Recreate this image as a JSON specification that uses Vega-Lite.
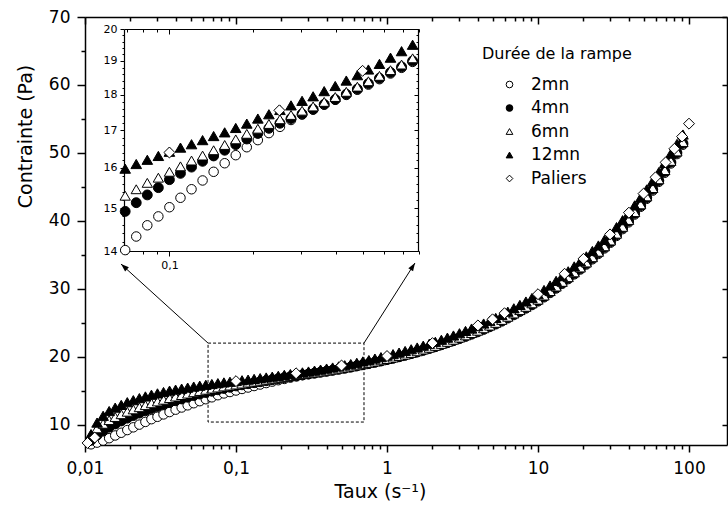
{
"$schema":"https://vega.github.io/schema/vega-lite/v6.json",
"width":642,"height":428,"autosize":"none",
"padding":{"left":85,"top":17,"right":1,"bottom":62},
"background":"white",
"config":{"font":"DejaVu Sans","view":{"stroke":null},"axis":{"grid":false,"domainColor":"black","tickColor":"black","labelColor":"black","titleColor":"black","titleFontWeight":"normal","labelFlush":false,"labelOverlap":false,"labelBound":false},"legend":{"orient":"none","legendX":397,"legendY":29,"titleFontSize":16,"titleFontWeight":"normal","titleColor":"black","labelFontSize":17,"labelColor":"black","symbolOffset":19,"labelOffset":13,"rowPadding":5.5,"titlePadding":14,"symbolSize":45,"symbolStrokeWidth":1,"padding":0}},
"datasets":{"pts":[
{"s":"2mn","x":0.010965,"y":7.1},{"s":"2mn","x":0.012023,"y":7.35},{"s":"2mn","x":0.013183,"y":7.65},{"s":"2mn","x":0.014454,"y":8.0},{"s":"2mn","x":0.015849,"y":8.4},{"s":"2mn","x":0.017378,"y":8.8},{"s":"2mn","x":0.019055,"y":9.2},{"s":"2mn","x":0.020893,"y":9.6},{"s":"2mn","x":0.022909,"y":10.0},{"s":"2mn","x":0.025119,"y":10.4},{"s":"2mn","x":0.027542,"y":10.8},{"s":"2mn","x":0.0302,"y":11.15},{"s":"2mn","x":0.033113,"y":11.5},{"s":"2mn","x":0.036308,"y":11.85},{"s":"2mn","x":0.039811,"y":12.2},{"s":"2mn","x":0.043652,"y":12.52},{"s":"2mn","x":0.047863,"y":12.84},{"s":"2mn","x":0.052481,"y":13.15},{"s":"2mn","x":0.057544,"y":13.45},{"s":"2mn","x":0.063096,"y":13.74},{"s":"2mn","x":0.069183,"y":14.02},{"s":"2mn","x":0.075858,"y":14.33},{"s":"2mn","x":0.083176,"y":14.59},{"s":"2mn","x":0.091201,"y":14.8},
{"s":"2mn","x":0.1,"y":15.02},{"s":"2mn","x":0.10965,"y":15.25},{"s":"2mn","x":0.12023,"y":15.46},{"s":"2mn","x":0.13183,"y":15.68},{"s":"2mn","x":0.14454,"y":15.9},{"s":"2mn","x":0.15849,"y":16.12},{"s":"2mn","x":0.17378,"y":16.33},{"s":"2mn","x":0.19055,"y":16.54},{"s":"2mn","x":0.20893,"y":16.73},{"s":"2mn","x":0.22909,"y":16.92},{"s":"2mn","x":0.25119,"y":17.09},{"s":"2mn","x":0.27542,"y":17.28},{"s":"2mn","x":0.302,"y":17.43},{"s":"2mn","x":0.33113,"y":17.57},{"s":"2mn","x":0.36308,"y":17.71},{"s":"2mn","x":0.39811,"y":17.85},{"s":"2mn","x":0.43652,"y":17.99},{"s":"2mn","x":0.47863,"y":18.14},{"s":"2mn","x":0.52481,"y":18.29},{"s":"2mn","x":0.57544,"y":18.45},{"s":"2mn","x":0.63096,"y":18.62},{"s":"2mn","x":0.69183,"y":18.79},{"s":"2mn","x":0.75858,"y":18.97},{"s":"2mn","x":0.83176,"y":19.16},{"s":"2mn","x":0.91201,"y":19.35},
{"s":"2mn","x":1,"y":19.55},{"s":"2mn","x":1.0965,"y":19.75},{"s":"2mn","x":1.2023,"y":19.96},{"s":"2mn","x":1.3183,"y":20.18},{"s":"2mn","x":1.4454,"y":20.42},{"s":"2mn","x":1.5849,"y":20.66},{"s":"2mn","x":1.7378,"y":20.91},{"s":"2mn","x":1.9055,"y":21.17},{"s":"2mn","x":2.0893,"y":21.44},{"s":"2mn","x":2.2909,"y":21.72},{"s":"2mn","x":2.5119,"y":22.02},{"s":"2mn","x":2.7542,"y":22.32},{"s":"2mn","x":3.02,"y":22.63},{"s":"2mn","x":3.3113,"y":22.95},{"s":"2mn","x":3.6308,"y":23.28},{"s":"2mn","x":3.9811,"y":23.62},{"s":"2mn","x":4.3652,"y":23.99},{"s":"2mn","x":4.7863,"y":24.37},{"s":"2mn","x":5.2481,"y":24.77},{"s":"2mn","x":5.7544,"y":25.19},{"s":"2mn","x":6.3096,"y":25.65},{"s":"2mn","x":6.9183,"y":26.13},{"s":"2mn","x":7.5858,"y":26.62},{"s":"2mn","x":8.3176,"y":27.1},{"s":"2mn","x":9.1201,"y":27.6},
{"s":"2mn","x":10,"y":28.14},{"s":"2mn","x":10.965,"y":28.74},{"s":"2mn","x":12.023,"y":29.38},{"s":"2mn","x":13.183,"y":30.04},{"s":"2mn","x":14.454,"y":30.73},{"s":"2mn","x":15.849,"y":31.42},{"s":"2mn","x":17.378,"y":32.12},{"s":"2mn","x":19.055,"y":32.83},{"s":"2mn","x":20.893,"y":33.56},{"s":"2mn","x":22.909,"y":34.33},{"s":"2mn","x":25.119,"y":35.13},{"s":"2mn","x":27.542,"y":35.93},{"s":"2mn","x":30.2,"y":36.77},{"s":"2mn","x":33.113,"y":37.77},{"s":"2mn","x":36.308,"y":38.77},{"s":"2mn","x":39.811,"y":39.77},{"s":"2mn","x":43.652,"y":40.92},{"s":"2mn","x":47.863,"y":42.06},{"s":"2mn","x":52.481,"y":43.23},{"s":"2mn","x":57.544,"y":44.45},{"s":"2mn","x":63.096,"y":45.73},{"s":"2mn","x":69.183,"y":47.07},{"s":"2mn","x":75.858,"y":48.44},{"s":"2mn","x":83.176,"y":49.82},{"s":"2mn","x":91.201,"y":51.2},
{"s":"4mn","x":0.010965,"y":7.7},{"s":"4mn","x":0.012023,"y":8.45},{"s":"4mn","x":0.013183,"y":9.08},{"s":"4mn","x":0.014454,"y":9.62},{"s":"4mn","x":0.015849,"y":10.1},{"s":"4mn","x":0.017378,"y":10.54},{"s":"4mn","x":0.019055,"y":10.95},{"s":"4mn","x":0.020893,"y":11.33},{"s":"4mn","x":0.022909,"y":11.69},{"s":"4mn","x":0.025119,"y":12.03},{"s":"4mn","x":0.027542,"y":12.36},{"s":"4mn","x":0.0302,"y":12.67},{"s":"4mn","x":0.033113,"y":12.97},{"s":"4mn","x":0.036308,"y":13.25},{"s":"4mn","x":0.039811,"y":13.52},{"s":"4mn","x":0.043652,"y":13.78},{"s":"4mn","x":0.047863,"y":14.03},{"s":"4mn","x":0.052481,"y":14.27},{"s":"4mn","x":0.057544,"y":14.5},{"s":"4mn","x":0.063096,"y":14.72},{"s":"4mn","x":0.069183,"y":14.92},{"s":"4mn","x":0.075858,"y":15.13},{"s":"4mn","x":0.083176,"y":15.32},{"s":"4mn","x":0.091201,"y":15.5},
{"s":"4mn","x":0.1,"y":15.7},{"s":"4mn","x":0.10965,"y":15.86},{"s":"4mn","x":0.12023,"y":16.02},{"s":"4mn","x":0.13183,"y":16.17},{"s":"4mn","x":0.14454,"y":16.31},{"s":"4mn","x":0.15849,"y":16.46},{"s":"4mn","x":0.17378,"y":16.61},{"s":"4mn","x":0.19055,"y":16.76},{"s":"4mn","x":0.20893,"y":16.91},{"s":"4mn","x":0.22909,"y":17.05},{"s":"4mn","x":0.25119,"y":17.19},{"s":"4mn","x":0.27542,"y":17.32},{"s":"4mn","x":0.302,"y":17.45},{"s":"4mn","x":0.33113,"y":17.58},{"s":"4mn","x":0.36308,"y":17.72},{"s":"4mn","x":0.39811,"y":17.86},{"s":"4mn","x":0.43652,"y":18.01},{"s":"4mn","x":0.47863,"y":18.16},{"s":"4mn","x":0.52481,"y":18.32},{"s":"4mn","x":0.57544,"y":18.48},{"s":"4mn","x":0.63096,"y":18.65},{"s":"4mn","x":0.69183,"y":18.82},{"s":"4mn","x":0.75858,"y":19.0},{"s":"4mn","x":0.83176,"y":19.19},{"s":"4mn","x":0.91201,"y":19.38},
{"s":"4mn","x":1,"y":19.58},{"s":"4mn","x":1.0965,"y":19.79},{"s":"4mn","x":1.2023,"y":20.0},{"s":"4mn","x":1.3183,"y":20.23},{"s":"4mn","x":1.4454,"y":20.46},{"s":"4mn","x":1.5849,"y":20.71},{"s":"4mn","x":1.7378,"y":20.96},{"s":"4mn","x":1.9055,"y":21.23},{"s":"4mn","x":2.0893,"y":21.5},{"s":"4mn","x":2.2909,"y":21.79},{"s":"4mn","x":2.5119,"y":22.08},{"s":"4mn","x":2.7542,"y":22.39},{"s":"4mn","x":3.02,"y":22.7},{"s":"4mn","x":3.3113,"y":23.03},{"s":"4mn","x":3.6308,"y":23.36},{"s":"4mn","x":3.9811,"y":23.71},{"s":"4mn","x":4.3652,"y":24.07},{"s":"4mn","x":4.7863,"y":24.46},{"s":"4mn","x":5.2481,"y":24.86},{"s":"4mn","x":5.7544,"y":25.29},{"s":"4mn","x":6.3096,"y":25.75},{"s":"4mn","x":6.9183,"y":26.24},{"s":"4mn","x":7.5858,"y":26.72},{"s":"4mn","x":8.3176,"y":27.21},{"s":"4mn","x":9.1201,"y":27.71},
{"s":"4mn","x":10,"y":28.26},{"s":"4mn","x":10.965,"y":28.87},{"s":"4mn","x":12.023,"y":29.51},{"s":"4mn","x":13.183,"y":30.18},{"s":"4mn","x":14.454,"y":30.86},{"s":"4mn","x":15.849,"y":31.56},{"s":"4mn","x":17.378,"y":32.26},{"s":"4mn","x":19.055,"y":32.98},{"s":"4mn","x":20.893,"y":33.71},{"s":"4mn","x":22.909,"y":34.49},{"s":"4mn","x":25.119,"y":35.28},{"s":"4mn","x":27.542,"y":36.09},{"s":"4mn","x":30.2,"y":36.93},{"s":"4mn","x":33.113,"y":37.94},{"s":"4mn","x":36.308,"y":38.94},{"s":"4mn","x":39.811,"y":39.95},{"s":"4mn","x":43.652,"y":41.09},{"s":"4mn","x":47.863,"y":42.24},{"s":"4mn","x":52.481,"y":43.41},{"s":"4mn","x":57.544,"y":44.64},{"s":"4mn","x":63.096,"y":45.92},{"s":"4mn","x":69.183,"y":47.27},{"s":"4mn","x":75.858,"y":48.63},{"s":"4mn","x":83.176,"y":50.02},{"s":"4mn","x":91.201,"y":51.4},
{"s":"6mn","x":0.010965,"y":8.5},{"s":"6mn","x":0.012023,"y":9.45},{"s":"6mn","x":0.013183,"y":10.12},{"s":"6mn","x":0.014454,"y":10.66},{"s":"6mn","x":0.015849,"y":11.12},{"s":"6mn","x":0.017378,"y":11.53},{"s":"6mn","x":0.019055,"y":11.9},{"s":"6mn","x":0.020893,"y":12.24},{"s":"6mn","x":0.022909,"y":12.56},{"s":"6mn","x":0.025119,"y":12.86},{"s":"6mn","x":0.027542,"y":13.14},{"s":"6mn","x":0.0302,"y":13.41},{"s":"6mn","x":0.033113,"y":13.66},{"s":"6mn","x":0.036308,"y":13.9},{"s":"6mn","x":0.039811,"y":14.13},{"s":"6mn","x":0.043652,"y":14.35},{"s":"6mn","x":0.047863,"y":14.56},{"s":"6mn","x":0.052481,"y":14.76},{"s":"6mn","x":0.057544,"y":14.95},{"s":"6mn","x":0.063096,"y":15.13},{"s":"6mn","x":0.069183,"y":15.3},{"s":"6mn","x":0.075858,"y":15.46},{"s":"6mn","x":0.083176,"y":15.62},{"s":"6mn","x":0.091201,"y":15.75},
{"s":"6mn","x":0.1,"y":15.9},{"s":"6mn","x":0.10965,"y":16.04},{"s":"6mn","x":0.12023,"y":16.19},{"s":"6mn","x":0.13183,"y":16.32},{"s":"6mn","x":0.14454,"y":16.46},{"s":"6mn","x":0.15849,"y":16.6},{"s":"6mn","x":0.17378,"y":16.75},{"s":"6mn","x":0.19055,"y":16.9},{"s":"6mn","x":0.20893,"y":17.04},{"s":"6mn","x":0.22909,"y":17.17},{"s":"6mn","x":0.25119,"y":17.3},{"s":"6mn","x":0.27542,"y":17.42},{"s":"6mn","x":0.302,"y":17.54},{"s":"6mn","x":0.33113,"y":17.66},{"s":"6mn","x":0.36308,"y":17.79},{"s":"6mn","x":0.39811,"y":17.93},{"s":"6mn","x":0.43652,"y":18.08},{"s":"6mn","x":0.47863,"y":18.23},{"s":"6mn","x":0.52481,"y":18.39},{"s":"6mn","x":0.57544,"y":18.55},{"s":"6mn","x":0.63096,"y":18.72},{"s":"6mn","x":0.69183,"y":18.89},{"s":"6mn","x":0.75858,"y":19.08},{"s":"6mn","x":0.83176,"y":19.27},{"s":"6mn","x":0.91201,"y":19.46},
{"s":"6mn","x":1,"y":19.65},{"s":"6mn","x":1.0965,"y":19.86},{"s":"6mn","x":1.2023,"y":20.08},{"s":"6mn","x":1.3183,"y":20.3},{"s":"6mn","x":1.4454,"y":20.54},{"s":"6mn","x":1.5849,"y":20.79},{"s":"6mn","x":1.7378,"y":21.05},{"s":"6mn","x":1.9055,"y":21.31},{"s":"6mn","x":2.0893,"y":21.59},{"s":"6mn","x":2.2909,"y":21.88},{"s":"6mn","x":2.5119,"y":22.18},{"s":"6mn","x":2.7542,"y":22.49},{"s":"6mn","x":3.02,"y":22.8},{"s":"6mn","x":3.3113,"y":23.13},{"s":"6mn","x":3.6308,"y":23.47},{"s":"6mn","x":3.9811,"y":23.82},{"s":"6mn","x":4.3652,"y":24.18},{"s":"6mn","x":4.7863,"y":24.57},{"s":"6mn","x":5.2481,"y":24.98},{"s":"6mn","x":5.7544,"y":25.41},{"s":"6mn","x":6.3096,"y":25.88},{"s":"6mn","x":6.9183,"y":26.36},{"s":"6mn","x":7.5858,"y":26.85},{"s":"6mn","x":8.3176,"y":27.34},{"s":"6mn","x":9.1201,"y":27.85},
{"s":"6mn","x":10,"y":28.39},{"s":"6mn","x":10.965,"y":29.0},{"s":"6mn","x":12.023,"y":29.65},{"s":"6mn","x":13.183,"y":30.32},{"s":"6mn","x":14.454,"y":31.01},{"s":"6mn","x":15.849,"y":31.7},{"s":"6mn","x":17.378,"y":32.41},{"s":"6mn","x":19.055,"y":33.13},{"s":"6mn","x":20.893,"y":33.87},{"s":"6mn","x":22.909,"y":34.64},{"s":"6mn","x":25.119,"y":35.44},{"s":"6mn","x":27.542,"y":36.25},{"s":"6mn","x":30.2,"y":37.1},{"s":"6mn","x":33.113,"y":38.1},{"s":"6mn","x":36.308,"y":39.11},{"s":"6mn","x":39.811,"y":40.12},{"s":"6mn","x":43.652,"y":41.27},{"s":"6mn","x":47.863,"y":42.42},{"s":"6mn","x":52.481,"y":43.59},{"s":"6mn","x":57.544,"y":44.82},{"s":"6mn","x":63.096,"y":46.11},{"s":"6mn","x":69.183,"y":47.46},{"s":"6mn","x":75.858,"y":48.82},{"s":"6mn","x":83.176,"y":50.21},{"s":"6mn","x":91.201,"y":51.6},
{"s":"12mn","x":0.010965,"y":8.6},{"s":"12mn","x":0.012023,"y":10.3},{"s":"12mn","x":0.013183,"y":11.3},{"s":"12mn","x":0.014454,"y":12.0},{"s":"12mn","x":0.015849,"y":12.5},{"s":"12mn","x":0.017378,"y":12.9},{"s":"12mn","x":0.019055,"y":13.3},{"s":"12mn","x":0.020893,"y":13.6},{"s":"12mn","x":0.022909,"y":13.9},{"s":"12mn","x":0.025119,"y":14.15},{"s":"12mn","x":0.027542,"y":14.4},{"s":"12mn","x":0.0302,"y":14.6},{"s":"12mn","x":0.033113,"y":14.8},{"s":"12mn","x":0.036308,"y":15.0},{"s":"12mn","x":0.039811,"y":15.15},{"s":"12mn","x":0.043652,"y":15.3},{"s":"12mn","x":0.047863,"y":15.45},{"s":"12mn","x":0.052481,"y":15.6},{"s":"12mn","x":0.057544,"y":15.73},{"s":"12mn","x":0.063096,"y":15.86},{"s":"12mn","x":0.069183,"y":15.98},{"s":"12mn","x":0.075858,"y":16.1},{"s":"12mn","x":0.083176,"y":16.21},{"s":"12mn","x":0.091201,"y":16.31},
{"s":"12mn","x":0.1,"y":16.42},{"s":"12mn","x":0.10965,"y":16.53},{"s":"12mn","x":0.12023,"y":16.62},{"s":"12mn","x":0.13183,"y":16.73},{"s":"12mn","x":0.14454,"y":16.84},{"s":"12mn","x":0.15849,"y":16.94},{"s":"12mn","x":0.17378,"y":17.06},{"s":"12mn","x":0.19055,"y":17.18},{"s":"12mn","x":0.20893,"y":17.32},{"s":"12mn","x":0.22909,"y":17.44},{"s":"12mn","x":0.25119,"y":17.56},{"s":"12mn","x":0.27542,"y":17.69},{"s":"12mn","x":0.302,"y":17.82},{"s":"12mn","x":0.33113,"y":17.95},{"s":"12mn","x":0.36308,"y":18.1},{"s":"12mn","x":0.39811,"y":18.25},{"s":"12mn","x":0.43652,"y":18.41},{"s":"12mn","x":0.47863,"y":18.57},{"s":"12mn","x":0.52481,"y":18.74},{"s":"12mn","x":0.57544,"y":18.91},{"s":"12mn","x":0.63096,"y":19.1},{"s":"12mn","x":0.69183,"y":19.3},{"s":"12mn","x":0.75858,"y":19.5},{"s":"12mn","x":0.83176,"y":19.72},{"s":"12mn","x":0.91201,"y":19.93},
{"s":"12mn","x":1,"y":20.15},{"s":"12mn","x":1.0965,"y":20.37},{"s":"12mn","x":1.2023,"y":20.6},{"s":"12mn","x":1.3183,"y":20.84},{"s":"12mn","x":1.4454,"y":21.09},{"s":"12mn","x":1.5849,"y":21.35},{"s":"12mn","x":1.7378,"y":21.62},{"s":"12mn","x":1.9055,"y":21.9},{"s":"12mn","x":2.0893,"y":22.19},{"s":"12mn","x":2.2909,"y":22.49},{"s":"12mn","x":2.5119,"y":22.8},{"s":"12mn","x":2.7542,"y":23.12},{"s":"12mn","x":3.02,"y":23.45},{"s":"12mn","x":3.3113,"y":23.79},{"s":"12mn","x":3.6308,"y":24.14},{"s":"12mn","x":3.9811,"y":24.5},{"s":"12mn","x":4.3652,"y":24.88},{"s":"12mn","x":4.7863,"y":25.28},{"s":"12mn","x":5.2481,"y":25.7},{"s":"12mn","x":5.7544,"y":26.14},{"s":"12mn","x":6.3096,"y":26.62},{"s":"12mn","x":6.9183,"y":27.12},{"s":"12mn","x":7.5858,"y":27.62},{"s":"12mn","x":8.3176,"y":28.12},{"s":"12mn","x":9.1201,"y":28.64},
{"s":"12mn","x":10,"y":29.2},{"s":"12mn","x":10.965,"y":29.82},{"s":"12mn","x":12.023,"y":30.48},{"s":"12mn","x":13.183,"y":31.16},{"s":"12mn","x":14.454,"y":31.86},{"s":"12mn","x":15.849,"y":32.57},{"s":"12mn","x":17.378,"y":33.29},{"s":"12mn","x":19.055,"y":34.02},{"s":"12mn","x":20.893,"y":34.77},{"s":"12mn","x":22.909,"y":35.56},{"s":"12mn","x":25.119,"y":36.37},{"s":"12mn","x":27.542,"y":37.19},{"s":"12mn","x":30.2,"y":38.05},{"s":"12mn","x":33.113,"y":39.07},{"s":"12mn","x":36.308,"y":40.09},{"s":"12mn","x":39.811,"y":41.11},{"s":"12mn","x":43.652,"y":42.27},{"s":"12mn","x":47.863,"y":43.43},{"s":"12mn","x":52.481,"y":44.62},{"s":"12mn","x":57.544,"y":45.86},{"s":"12mn","x":63.096,"y":47.16},{"s":"12mn","x":69.183,"y":48.52},{"s":"12mn","x":75.858,"y":49.9},{"s":"12mn","x":83.176,"y":51.3},{"s":"12mn","x":91.201,"y":52.7},
{"s":"Paliers","x":0.0104,"y":7.3},{"s":"Paliers","x":0.0116,"y":8.1},{"s":"Paliers","x":0.1,"y":16.4},{"s":"Paliers","x":0.25,"y":17.55},{"s":"Paliers","x":0.5,"y":18.7},{"s":"Paliers","x":1,"y":20.1},{"s":"Paliers","x":2,"y":22.0},{"s":"Paliers","x":4,"y":24.6},{"s":"Paliers","x":5,"y":25.5},{"s":"Paliers","x":6,"y":26.4},{"s":"Paliers","x":10,"y":29.2},{"s":"Paliers","x":15,"y":32.2},{"s":"Paliers","x":20,"y":34.4},{"s":"Paliers","x":30,"y":38.0},{"s":"Paliers","x":40,"y":41.2},{"s":"Paliers","x":50,"y":44.0},{"s":"Paliers","x":60,"y":46.4},{"s":"Paliers","x":70,"y":48.6},{"s":"Paliers","x":80,"y":50.6},{"s":"Paliers","x":90,"y":52.4},{"s":"Paliers","x":100,"y":54.3}
]},
"layer":[
{
"encoding":{
"x":{"field":"x","type":"quantitative","scale":{"type":"log","domain":[0.01,178.5]},"axis":{"orient":"bottom","values":[0.01,0.02,0.03,0.04,0.05,0.06,0.07,0.08,0.09,0.1,0.2,0.3,0.4,0.5,0.6,0.7,0.8,0.9,1,2,3,4,5,6,7,8,9,10,20,30,40,50,60,70,80,90,100],"labelExpr":"abs(log(datum.value)/LN10 - round(log(datum.value)/LN10)) < 0.001 ? replace(format(datum.value, ''), '.', ',') : ''","tickSize":{"condition":{"test":"abs(log(datum.value)/LN10 - round(log(datum.value)/LN10)) < 0.001","value":7},"value":4},"tickWidth":1.5,"domainWidth":1.5,"labelFontSize":17,"labelPadding":8,"title":"Taux  (s⁻¹)","titleFontSize":19,"titleX":295,"titleY":37,"titleBaseline":"top"}},
"y":{"field":"y","type":"quantitative","scale":{"domain":[7,70]},"axis":{"orient":"left","values":[10,15,20,25,30,35,40,45,50,55,60,65,70],"labelExpr":"datum.value % 10 == 0 ? datum.value : ''","tickSize":{"condition":{"test":"datum.value % 10 == 0","value":8},"value":4},"tickWidth":1.5,"domainWidth":1.5,"labelFontSize":17,"labelPadding":7,"title":"Contrainte (Pa)","titleFontSize":19,"titleX":-54,"titleY":119,"titleBaseline":"alphabetic"}}
},
"layer":[
{"data":{"name":"pts"},"mark":{"type":"point","filled":true,"strokeWidth":1,"opacity":1},
"encoding":{
"shape":{"field":"s","type":"nominal","title":"Durée de la rampe","scale":{"domain":["2mn","4mn","6mn","12mn","Paliers"],"range":["circle","circle","triangle-up","triangle-up","diamond"]}},
"fill":{"field":"s","type":"nominal","title":"Durée de la rampe","scale":{"domain":["2mn","4mn","6mn","12mn","Paliers"],"range":["white","black","white","black","white"]}},
"stroke":{"field":"s","type":"nominal","title":"Durée de la rampe","scale":{"domain":["2mn","4mn","6mn","12mn","Paliers"],"range":["black","black","black","black","black"]}},
"size":{"field":"s","type":"nominal","scale":{"domain":["Paliers","12mn","6mn","4mn","2mn"],"range":[120,90,90,64,64]},"legend":null}
}},
{"data":{"values":[{"x":0.0653,"y":22.0,"x2":0.704,"y2":10.38}]},"mark":{"type":"rect","filled":false,"stroke":"black","strokeWidth":1,"strokeDash":[3,2]},"encoding":{"x2":{"field":"x2"},"y2":{"field":"y2"}}},
{"data":{"values":[{"x":0.0653,"y":22.0,"x2":0.01731,"y2":33.64},{"x":0.704,"y":22.0,"x2":1.532,"y2":33.79}]},"mark":{"type":"rule","stroke":"black","strokeWidth":1},"encoding":{"x2":{"field":"x2"},"y2":{"field":"y2"}}},
{"data":{"values":[{"x":0.01813,"y":33.24}]},"mark":{"type":"point","shape":"M0,-1L0.7,1L-0.7,1Z","filled":true,"fill":"black","strokeWidth":0,"size":64,"angle":312,"opacity":1},"encoding":{}},
{"data":{"values":[{"x":1.483,"y":33.29}]},"mark":{"type":"point","shape":"M0,-1L0.7,1L-0.7,1Z","filled":true,"fill":"black","strokeWidth":0,"size":64,"angle":32.5,"opacity":1},"encoding":{}}
]
},
{
"data":{"name":"pts"},"mark":{"type":"point","opacity":0},
"encoding":{
"x":{"field":"x","type":"quantitative","scale":{"type":"log","domain":[0.01,178.5]},"axis":{"orient":"top","values":[0.01,0.02,0.03,0.04,0.05,0.06,0.07,0.08,0.09,0.1,0.2,0.3,0.4,0.5,0.6,0.7,0.8,0.9,1,2,3,4,5,6,7,8,9,10,20,30,40,50,60,70,80,90,100],"labels":false,"title":null,"tickSize":{"condition":{"test":"abs(log(datum.value)/LN10 - round(log(datum.value)/LN10)) < 0.001","value":-7},"value":-4},"tickWidth":1.5,"domainWidth":1.5}},
"y":{"field":"y","type":"quantitative","scale":{"domain":[7,70]},"axis":{"orient":"right","values":[10,20,30,40,50,60,70],"labels":false,"title":null,"tickSize":-5,"tickWidth":1.5,"domainWidth":1.5}}
}
},
{
"data":{"name":"pts"},
"transform":[{"filter":"datum.x >= 0.068 && datum.x <= 0.81 && datum.y >= 13.9 && datum.y <= 20.1"}],
"mark":{"type":"point","filled":true,"strokeWidth":1,"opacity":1},
"encoding":{
"x":{"field":"x","type":"quantitative","scale":{"type":"log","domain":[0.0685,0.8],"range":[39,334]},"axis":{"orient":"bottom","offset":-194,"values":[0.07,0.08,0.09,0.1,0.2,0.3,0.4,0.5,0.6,0.7,0.8],"labelExpr":"datum.value == 0.1 ? '0,1' : ''","tickSize":{"condition":{"test":"datum.value == 0.1","value":5},"value":3},"tickWidth":1,"domainWidth":1.2,"labelFontSize":11,"labelPadding":3,"title":null}},
"y":{"field":"y","type":"quantitative","scale":{"type":"log","domain":[14,20],"range":[234,12]},"axis":{"orient":"left","offset":-39,"values":[14,14.2,14.4,14.6,14.8,15,15.2,15.4,15.6,15.8,16,16.2,16.4,16.6,16.8,17,17.2,17.4,17.6,17.8,18,18.2,18.4,18.6,18.8,19,19.2,19.4,19.6,19.8,20],"labelExpr":"abs(datum.value - round(datum.value)) < 0.01 ? datum.value : ''","tickSize":{"condition":{"test":"abs(datum.value - round(datum.value)) < 0.01","value":4},"value":2},"tickWidth":1,"domainWidth":1.2,"labelFontSize":11,"labelPadding":3,"title":null}},
"shape":{"field":"s","type":"nominal","title":"Durée de la rampe","scale":{"domain":["2mn","4mn","6mn","12mn","Paliers"],"range":["circle","circle","triangle-up","triangle-up","diamond"]}},
"fill":{"field":"s","type":"nominal","title":"Durée de la rampe","scale":{"domain":["2mn","4mn","6mn","12mn","Paliers"],"range":["white","black","white","black","white"]}},
"stroke":{"field":"s","type":"nominal","title":"Durée de la rampe","scale":{"domain":["2mn","4mn","6mn","12mn","Paliers"],"range":["black","black","black","black","black"]}},
"size":{"field":"s","type":"nominal","scale":{"domain":["Paliers","12mn","6mn","4mn","2mn"],"range":[120,90,90,64,64]},"legend":null}
}
},
{
"data":{"name":"pts"},"mark":{"type":"point","opacity":0},
"encoding":{
"x":{"field":"x","type":"quantitative","scale":{"type":"log","domain":[0.0685,0.8],"range":[39,334]},"axis":{"orient":"top","offset":-12,"values":[0.07,0.08,0.09,0.1,0.2,0.3,0.4,0.5,0.6,0.7,0.8],"labels":false,"title":null,"tickSize":{"condition":{"test":"datum.value == 0.1","value":-5},"value":-3},"tickWidth":1,"domainWidth":1.2}},
"y":{"field":"y","type":"quantitative","scale":{"type":"log","domain":[14,20],"range":[234,12]},"axis":{"orient":"right","offset":-309,"values":[14,14.2,14.4,14.6,14.8,15,15.2,15.4,15.6,15.8,16,16.2,16.4,16.6,16.8,17,17.2,17.4,17.6,17.8,18,18.2,18.4,18.6,18.8,19,19.2,19.4,19.6,19.8,20],"labels":false,"title":null,"tickSize":{"condition":{"test":"abs(datum.value - round(datum.value)) < 0.01","value":-4},"value":-2},"tickWidth":1,"domainWidth":1.2}}
}
}
],
"resolve":{"scale":{"x":"independent","y":"independent"}}
}
